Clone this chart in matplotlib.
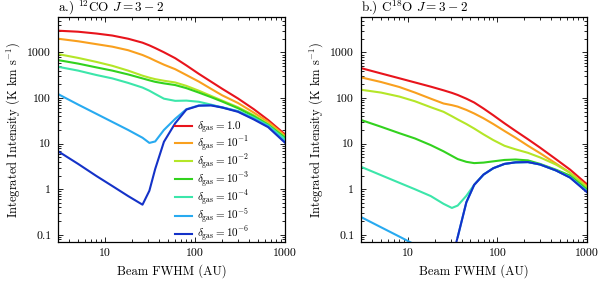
import numpy as np
import matplotlib
matplotlib.use('Agg')
import matplotlib.pyplot as plt
from matplotlib.ticker import LogLocator, NullFormatter

plt.rcParams['font.family'] = 'serif'
plt.rcParams['font.serif'] = ['cmr10']
plt.rcParams['mathtext.fontset'] = 'cm'
plt.rcParams['axes.unicode_minus'] = False
plt.rcParams['axes.formatter.use_mathtext'] = True

nan = np.nan

# panel a: 12CO J=3-2
fwhm_a = [3, 5, 8, 12, 18, 26, 31, 36, 45, 60, 80, 110, 150, 200, 300, 450, 650, 1000]
co12_d0 = [3000, 2850, 2600, 2350, 2000, 1640, 1430, 1250, 1010, 750, 520, 340, 230, 160, 98, 57, 33, 16]
co12_d1 = [2000, 1760, 1520, 1340, 1120, 880, 760, 660, 540, 430, 320, 230, 160, 115, 78, 48, 30, 15]
co12_d2 = [920, 760, 620, 510, 400, 310, 280, 260, 240, 220, 185, 145, 112, 88, 63, 42, 27, 14]
co12_d3 = [680, 570, 470, 400, 330, 270, 245, 227, 210, 193, 165, 132, 105, 84, 60, 40, 26, 13.5]
co12_d4 = [485, 400, 320, 270, 215, 170, 145, 123, 97, 87, 88, 83, 72, 62, 52, 37, 25, 12.5]
co12_d5 = [122, 72, 45, 30, 20, 13.5, 10.4, 11.2, 20, 35, 57, 69, 70, 63, 51, 35, 24, 11]
co12_d6 = [6.8, 3.6, 1.95, 1.18, 0.71, 0.46, 0.93, 2.8, 11, 28, 56, 68, 69, 62, 50, 34, 23, 10.5]

# panel b: C18O J=3-2
fwhm_b = [3, 5, 8, 12, 18, 25, 31, 36, 45, 55, 70, 90, 120, 160, 220, 300, 450, 650, 1000]
c18o_d0 = [453, 347, 272, 220, 178, 148, 130, 117, 97, 80, 59, 42, 28, 19, 12.5, 8.2, 4.6, 2.7, 1.3]
c18o_d1 = [284, 225, 175, 132, 97, 76, 70, 65, 55, 46, 36, 27, 19, 13.5, 9, 6.2, 3.7, 2.3, 1.18]
c18o_d2 = [152, 132, 108, 85, 63, 50, 40, 34, 27, 21.5, 16, 12, 9, 7.5, 6.3, 5, 3.5, 2.3, 1.1]
c18o_d3 = [33, 23.5, 17, 13, 9.3, 6.8, 5.4, 4.6, 4.0, 3.75, 3.85, 4.1, 4.4, 4.5, 4.3, 3.6, 2.7, 2.0, 1.0]
c18o_d4 = [3.1, 2.04, 1.39, 1.0, 0.71, 0.48, 0.39, 0.44, 0.72, 1.25, 2.1, 2.9, 3.6, 3.9, 3.95, 3.5, 2.6, 1.85, 0.92]
c18o_d5 = [0.245, 0.147, 0.092, 0.061, nan, nan, nan, 0.09, 0.52, 1.25, 2.1, 2.9, 3.6, 3.9, 3.95, 3.5, 2.6, 1.82, 0.9]
c18o_d6 = [nan, nan, nan, nan, nan, nan, 0.03, 0.09, 0.52, 1.25, 2.1, 2.9, 3.6, 3.9, 3.95, 3.5, 2.6, 1.8, 0.87]

labels = [r'$\delta_{\rm gas} = 1.0$', r'$\delta_{\rm gas} = 10^{-1}$', r'$\delta_{\rm gas} = 10^{-2}$',
          r'$\delta_{\rm gas} = 10^{-3}$', r'$\delta_{\rm gas} = 10^{-4}$', r'$\delta_{\rm gas} = 10^{-5}$',
          r'$\delta_{\rm gas} = 10^{-6}$']
colors = ['#e8141c', '#f9a01e', '#b4e628', '#32d21e', '#3ce6aa', '#28aaf0', '#1432c8']

fig = plt.figure(figsize=(6, 2.83), dpi=100)
axa = fig.add_axes([0.097, 0.145, 0.378, 0.795])
axb = fig.add_axes([0.602, 0.145, 0.376, 0.795])

series_a = [co12_d0, co12_d1, co12_d2, co12_d3, co12_d4, co12_d5, co12_d6]
series_b = [c18o_d0, c18o_d1, c18o_d2, c18o_d3, c18o_d4, c18o_d5, c18o_d6]

for k in range(7):
    axa.plot(fwhm_a, series_a[k], color=colors[k], lw=1.5, label=labels[k])
    axb.plot(fwhm_b, series_b[k], color=colors[k], lw=1.5)

for ax in [axa, axb]:
    ax.set_xscale('log')
    ax.set_yscale('log')
    ax.set_xlim(3, 1000)
    ax.set_ylim(0.07, 6000)
    ax.set_xticks([10, 100, 1000])
    ax.set_xticklabels(['10', '100', '1000'])
    ax.set_yticks([0.1, 1, 10, 100, 1000])
    ax.set_yticklabels(['0.1', '1', '10', '100', '1000'])
    ax.xaxis.set_minor_locator(LogLocator(base=10, subs=np.arange(2, 10)))
    ax.yaxis.set_minor_locator(LogLocator(base=10, subs=np.arange(2, 10)))
    ax.xaxis.set_minor_formatter(NullFormatter())
    ax.yaxis.set_minor_formatter(NullFormatter())
    ax.tick_params(which='both', direction='in', top=True, right=True, labelsize=8.5, width=0.6)
    ax.tick_params(which='major', length=3.5, pad=5)
    ax.tick_params(which='minor', length=2)
    for s in ax.spines.values():
        s.set_linewidth(0.9)
    ax.set_xlabel('Beam FWHM (AU)', fontsize=9)
    ax.set_ylabel(r'Integrated Intensity (K km s$^{-1}$)', fontsize=9)

axa.set_title(r'a.) $^{12}$CO $J = 3-2$', loc='left', fontsize=9.5, pad=2)
axb.set_title(r'b.) C$^{18}$O $J = 3-2$', loc='left', fontsize=9.5, pad=2)

axa.legend(loc='lower left', bbox_to_anchor=(0.494, -0.029), frameon=False, fontsize=8,
           handlelength=1.55, labelspacing=-0.1, handletextpad=0.45, borderaxespad=0)

plt.savefig('out.png', dpi=100)
